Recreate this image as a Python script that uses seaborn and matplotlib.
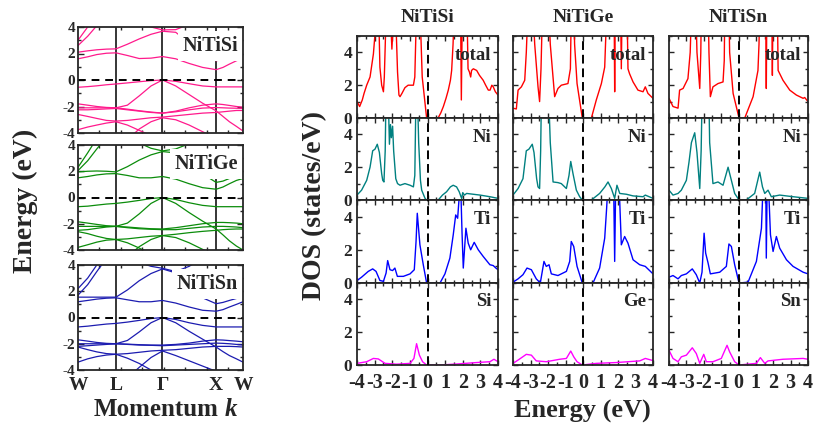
import matplotlib
matplotlib.use("Agg")
import matplotlib.pyplot as plt
import seaborn as sns
from matplotlib.ticker import MultipleLocator

# ---------------- data ----------------
# k-path W-L-G-X-W (units 2pi/a), symmetry point labels
K = [0.0, 0.18, 0.35, 0.53, 0.707, 0.92, 1.14, 1.36, 1.573, 1.82, 2.07, 2.32, 2.573, 2.70, 2.82, 2.95, 3.073]
K_LABELS = ["W", "L", "\u0393", "X", "W"]
K_SYM_IDX = [0, 4, 8, 12, 16]

COMPOUNDS = ["NiTiSi", "NiTiGe", "NiTiSn"]
SPECIES = ["Si", "Ge", "Sn"]

BANDS_SI = [
    [-0.55, -0.5, -0.44, -0.36, -0.3, -0.22, -0.13, -0.05, 0.0, -0.1, -0.28, -0.45, -0.52, -0.52, -0.52, -0.52, -0.52],
    [-1.8, -1.9, -2.0, -2.07, -2.1, -1.9, -1.2, -0.45, 0.0, -0.45, -1.1, -1.75, -2.33, -2.75, -3.15, -3.5, -3.85],
    [-2.1, -2.1, -2.1, -2.1, -2.1, -2.2, -2.32, -2.42, -2.5, -2.4, -2.25, -2.12, -2.08, -2.1, -2.12, -2.13, -2.15],
    [-2.25, -2.25, -2.22, -2.18, -2.15, -2.25, -2.35, -2.45, -2.5, -2.35, -2.1, -1.9, -1.8, -1.85, -1.92, -2.0, -2.05],
    [-2.6, -2.75, -2.9, -3.05, -3.1, -3.05, -2.95, -2.85, -2.8, -2.7, -2.6, -2.5, -2.45, -2.4, -2.35, -2.3, -2.3],
    [-3.75, -3.55, -3.4, -3.25, -3.15, -3.4, -3.8, -4.2, -4.5, -5, -5, -5, -5, -5, -5, -5, -5],
    [-5, -5, -5, -5, -5, -4.5, -3.7, -3.15, -2.85, -3.0, -3.4, -3.9, -4.4, -4.8, -5, -5, -5],
    [1.6, 1.75, 1.92, 2.02, 2.05, 1.85, 1.62, 1.65, 1.77, 1.6, 1.25, 0.95, 0.78, 0.95, 1.2, 1.45, 1.65],
    [2.1, 2.2, 2.28, 2.33, 2.35, 2.7, 3.1, 3.45, 3.68, 3.6, 2.8, 1.9, 1.45, 1.55, 1.7, 1.9, 2.1],
    [2.6, 3.3, 4.1, 5.0, 5.8, 6, 6, 6, 6, 6, 6, 6, 6, 6, 6, 6, 6],
    [3.0, 4.0, 5.0, 6, 6, 6, 6, 6, 6, 6, 6, 6, 6, 6, 6, 6, 6],
    [6, 6, 6, 6, 5.2, 4.8, 4.4, 4.0, 3.78, 3.8, 4.2, 4.8, 5.5, 6, 6, 6, 6],
]
BANDS_GE = [
    [-0.7, -0.66, -0.58, -0.5, -0.45, -0.35, -0.22, -0.08, 0.0, -0.15, -0.4, -0.6, -0.7, -0.7, -0.7, -0.7, -0.7],
    [-1.85, -1.95, -2.05, -2.15, -2.2, -1.95, -1.25, -0.45, 0.0, -0.45, -1.15, -1.8, -2.4, -2.85, -3.3, -3.7, -4.0],
    [-2.2, -2.2, -2.2, -2.2, -2.2, -2.25, -2.32, -2.38, -2.4, -2.3, -2.15, -2.0, -1.9, -1.9, -1.92, -1.95, -2.0],
    [-2.5, -2.45, -2.35, -2.25, -2.2, -2.3, -2.38, -2.42, -2.45, -2.45, -2.35, -2.25, -2.2, -2.2, -2.22, -2.25, -2.3],
    [-2.6, -2.75, -2.95, -3.12, -3.2, -3.15, -3.05, -2.95, -2.9, -2.8, -2.68, -2.58, -2.5, -2.45, -2.42, -2.4, -2.4],
    [-3.8, -3.6, -3.4, -3.25, -3.2, -3.45, -3.85, -4.3, -4.7, -5, -5, -5, -5, -5, -5, -5, -5],
    [-5, -5, -5, -5, -5, -4.5, -3.75, -3.2, -2.9, -3.05, -3.45, -3.95, -4.45, -4.8, -5, -5, -5],
    [1.5, 1.6, 1.72, 1.8, 1.82, 1.68, 1.5, 1.5, 1.6, 1.4, 1.05, 0.75, 0.63, 0.8, 1.05, 1.3, 1.45],
    [1.95, 2.0, 2.02, 2.0, 1.95, 2.35, 2.85, 3.25, 3.5, 3.4, 2.7, 1.8, 1.15, 1.25, 1.45, 1.7, 2.0],
    [2.05, 2.8, 3.7, 4.6, 5.5, 6, 6, 6, 6, 6, 6, 6, 6, 6, 6, 6, 6],
    [2.3, 3.4, 4.5, 5.5, 6, 6, 6, 6, 6, 6, 6, 6, 6, 6, 6, 6, 6],
    [6, 6, 6, 6, 5.1, 4.6, 4.15, 3.75, 3.55, 3.7, 4.1, 4.7, 5.4, 6, 6, 6, 6],
]
BANDS_SN = [
    [-0.72, -0.66, -0.58, -0.5, -0.45, -0.35, -0.22, -0.08, 0.0, -0.15, -0.4, -0.6, -0.72, -0.72, -0.72, -0.72, -0.72],
    [-1.7, -1.8, -1.9, -1.97, -2.0, -1.75, -1.1, -0.4, 0.0, -0.4, -1.05, -1.65, -2.25, -2.6, -2.9, -3.15, -3.4],
    [-2.0, -2.0, -2.0, -2.0, -2.0, -2.03, -2.07, -2.1, -2.1, -2.05, -1.95, -1.8, -1.7, -1.72, -1.76, -1.8, -1.85],
    [-2.2, -2.15, -2.1, -2.05, -2.0, -2.05, -2.1, -2.12, -2.15, -2.1, -2.05, -2.0, -1.95, -1.97, -2.0, -2.05, -2.1],
    [-2.25, -2.45, -2.62, -2.75, -2.8, -2.75, -2.65, -2.55, -2.5, -2.45, -2.35, -2.25, -2.2, -2.2, -2.2, -2.22, -2.25],
    [-3.4, -3.15, -2.98, -2.86, -2.8, -3.1, -3.5, -4.0, -4.4, -5, -5, -5, -5, -5, -5, -5, -5],
    [-5, -5, -5, -5, -5, -4.6, -3.8, -3.05, -2.55, -2.9, -3.3, -3.7, -4.1, -4.3, -4.5, -4.7, -4.9],
    [1.2, 1.3, 1.4, 1.47, 1.5, 1.35, 1.2, 1.2, 1.3, 1.1, 0.8, 0.55, 0.48, 0.6, 0.8, 1.0, 1.2],
    [1.55, 1.55, 1.55, 1.55, 1.55, 2.1, 2.8, 3.35, 3.7, 3.4, 2.5, 1.5, 1.05, 1.15, 1.3, 1.45, 1.55],
    [1.7, 2.5, 3.5, 4.5, 5.5, 6, 6, 6, 6, 6, 6, 6, 6, 6, 6, 6, 6],
    [2.2, 3.0, 4.0, 5.0, 6, 6, 6, 6, 6, 6, 6, 6, 6, 6, 6, 6, 6],
    [6, 6, 6, 6, 5.0, 4.6, 4.2, 3.9, 3.75, 3.5, 3.9, 4.5, 5.2, 6, 6, 6, 6],
]

# DOS curves: (energy eV, states/eV)
TOT_SI = [(-4.0,1.0),(-3.85,0.7),(-3.7,1.1),(-3.6,1.5),(-3.45,2.0),(-3.26,2.5),(-3.07,3.9),(-2.95,5.5),(-2.85,7),
          (-2.75,5.5),(-2.70,3.1),(-2.6,2.0),(-2.5,1.6),(-2.45,2.5),(-2.37,5.5),(-2.2,7),(-2.07,5.5),(-2.02,4.2),
          (-1.96,5.5),(-1.85,7),(-1.78,5.5),(-1.70,2.8),(-1.62,1.4),(-1.56,1.3),(-1.45,1.5),(-1.28,1.85),(-1.1,2.0),
          (-0.8,2.0),(-0.72,2.5),(-0.65,5.5),(-0.5,7),(-0.39,5.5),(-0.3,2.5),(-0.2,1.5),(-0.05,0.0),(0.6,0.0),
          (0.75,0.3),(0.9,0.7),(1.05,1.2),(1.18,1.7),(1.3,2.3),(1.37,2.9),(1.45,4.5),(1.5,6),(1.88,6),(1.92,1.1),
          (1.97,6),(2.25,6),(2.30,3.0),(2.38,2.8),(2.45,2.5),(2.5,2.9),(2.6,3.0),(2.79,2.9),(2.95,2.6),(3.16,2.3),
          (3.3,2.0),(3.45,1.7),(3.55,1.7),(3.65,2.0),(3.73,1.9),(3.85,1.6),(4.0,1.4)]
NI_SI = [(-4.0,0.3),(-3.74,0.6),(-3.45,1.2),(-3.26,2.0),(-3.11,3.0),(-2.98,3.1),(-2.85,3.4),(-2.73,2.9),(-2.6,1.6),
         (-2.54,1.2),(-2.47,1.1),(-2.40,3.0),(-2.36,6),(-2.22,6),(-2.16,3.4),(-2.10,4.6),(-2.05,3.8),(-1.98,4.5),
         (-1.92,3.0),(-1.80,1.3),(-1.70,1.0),(-1.56,0.9),(-1.28,1.0),(-0.99,0.9),(-0.80,0.8),(-0.72,1.5),(-0.66,6),
         (-0.56,6),(-0.50,3.5),(-0.40,1.2),(-0.33,0.6),(-0.14,0.1),(-0.05,0.0),(0.61,0.0),(0.85,0.3),(1.08,0.5),
         (1.30,0.8),(1.46,0.9),(1.55,0.85),(1.65,0.8),(1.80,0.5),(1.90,0.2),(1.94,0.1),(2.0,0.45),(2.1,0.3),
         (2.22,0.4),(2.6,0.35),(2.98,0.3),(3.54,0.2),(4.0,0.1)]
TI_SI = [(-4.0,0.15),(-3.74,0.35),(-3.36,0.7),(-3.11,0.85),(-2.92,0.7),(-2.70,0.15),(-2.5,0.1),(-2.35,0.6),(-2.26,1.35),
         (-2.13,0.8),(-1.98,0.75),(-1.85,0.9),(-1.71,0.4),(-1.37,0.4),(-0.99,0.55),(-0.75,0.8),(-0.65,2.5),(-0.58,4.2),
         (-0.43,2.3),(-0.24,1.1),(-0.05,0.0),(0.71,0.0),(0.99,0.55),(1.27,1.5),(1.46,2.9),(1.60,4.1),(1.71,3.9),
         (1.80,5.2),(1.88,6),(1.96,3.0),(2.03,0.9),(2.18,3.3),(2.31,2.4),(2.45,2.0),(2.65,2.45),(2.88,2.0),(3.16,1.6),
         (3.54,1.1),(3.73,1.05),(3.88,0.9),(4.0,0.8)]
X_SI = [(-4.0,0.1),(-3.45,0.2),(-3.07,0.4),(-2.79,0.37),(-2.41,0.1),(-1.75,0.05),(-0.99,0.1),(-0.77,0.4),(-0.62,1.3),
        (-0.46,0.6),(-0.28,0.2),(-0.05,0.0),(0.71,0.0),(1.65,0.06),(2.79,0.15),(3.54,0.2),(3.77,0.35),(4.0,0.2)]

TOT_GE = [(-4.0,0.6),(-3.81,0.55),(-3.71,1.7),(-3.52,1.9),(-3.33,2.3),(-3.24,4.0),(-3.15,6.5),(-2.85,6.5),(-2.76,4.5),
          (-2.57,1.9),(-2.48,1.0),(-2.40,3.0),(-2.32,6.5),(-1.95,6.5),(-1.87,4.5),(-1.62,1.3),(-1.43,1.8),(-1.24,2.0),
          (-0.86,2.1),(-0.72,3.0),(-0.67,6.5),(-0.52,6.5),(-0.48,4.5),(-0.34,2.1),(-0.04,0.0),(0.48,0.0),(0.76,1.1),
          (1.05,2.1),(1.24,3.1),(1.32,5.5),(1.4,6.5),(1.78,6.5),(1.81,1.6),(1.84,6.5),(2.15,6.5),(2.19,3.0),(2.23,6.5),
          (2.52,6.5),(2.57,3.0),(2.66,2.7),(2.86,2.2),(3.14,1.7),(3.43,1.6),(3.56,1.9),(3.71,1.5),(4.0,1.2)]
NI_GE = [(-4.0,0.3),(-3.71,0.7),(-3.43,1.3),(-3.24,3.0),(-3.09,3.1),(-2.9,3.4),(-2.8,2.9),(-2.65,1.3),(-2.57,0.8),
         (-2.48,0.7),(-2.42,3.0),(-2.38,6),(-1.95,6),(-1.87,3.5),(-1.71,1.1),(-1.43,1.06),(-1.24,1.0),(-0.95,0.7),
         (-0.80,1.5),(-0.70,2.35),(-0.57,1.6),(-0.38,0.6),(-0.19,0.2),(-0.04,0.0),(0.48,0.0),(0.95,0.4),(1.25,0.8),
         (1.43,1.1),(1.62,0.7),(1.81,0.1),(1.94,0.9),(2.1,0.4),(2.48,0.35),(2.86,0.25),(3.43,0.2),(3.56,0.3),(4.0,0.1)]
TI_GE = [(-4.0,0.05),(-3.71,0.25),(-3.43,0.5),(-3.2,0.9),(-2.95,0.8),(-2.67,0.25),(-2.44,0.0),(-2.23,1.3),(-2.1,1.0),
         (-1.94,1.1),(-1.81,0.55),(-1.43,0.45),(-0.95,0.7),(-0.76,1.3),(-0.67,2.5),(-0.53,2.2),(-0.34,1.0),(-0.04,0.0),
         (0.57,0.0),(0.95,0.9),(1.24,2.7),(1.35,4.5),(1.43,6),(1.75,6),(1.81,1.3),(1.87,6),(2.06,6),(2.19,2.3),
         (2.38,2.8),(2.57,2.4),(2.86,1.4),(3.24,1.1),(3.56,1.0),(4.0,0.55)]
X_GE = [(-4.0,0.1),(-3.71,0.3),(-3.24,0.65),(-2.95,0.6),(-2.67,0.25),(-2.1,0.2),(-1.33,0.35),(-0.95,0.4),(-0.7,0.85),
        (-0.53,0.5),(-0.34,0.2),(-0.04,0.0),(0.76,0.1),(1.9,0.15),(3.24,0.25),(3.56,0.4),(4.0,0.27)]

TOT_SN = [(-4.0,1.2),(-3.77,0.7),(-3.48,0.6),(-3.39,1.7),(-3.19,1.8),(-2.91,2.4),(-2.78,4.0),(-2.71,6.5),(-2.45,6.5),
          (-2.39,4.0),(-2.23,1.8),(-2.17,4.0),(-2.14,6.5),(-1.74,6.5),(-1.70,4.0),(-1.62,1.3),(-1.47,1.9),(-1.18,2.1),
          (-0.89,2.2),(-0.82,3.5),(-0.79,6.5),(-0.55,6.5),(-0.51,4.0),(-0.31,1.5),(0.03,0.0),(0.36,0.0),(0.84,1.3),
          (1.12,2.9),(1.18,4.5),(1.22,6.5),(1.57,6.5),(1.60,1.8),(1.63,6.5),(1.92,6.5),(1.95,2.6),(1.98,6.5),(2.24,6.5),
          (2.28,2.9),(2.56,2.3),(2.95,1.7),(3.33,1.4),(3.72,1.2),(3.81,1.25),(4.0,1.0)]
NI_SN = [(-4.0,0.6),(-3.77,0.3),(-3.48,0.4),(-3.29,0.6),(-3.0,1.2),(-2.85,2.3),(-2.71,3.5),(-2.52,4.1),(-2.39,2.9),
         (-2.23,0.7),(-2.15,3.0),(-2.10,6),(-1.70,6),(-1.66,3.5),(-1.47,1.0),(-1.18,1.1),(-0.89,0.9),(-0.60,2.0),
         (-0.41,1.2),(-0.22,0.4),(0.03,0.0),(0.45,0.0),(0.93,0.4),(1.22,1.7),(1.38,0.8),(1.51,0.4),(1.70,0.6),
         (1.89,0.2),(2.37,0.3),(3.14,0.2),(4.0,0.1)]
TI_SN = [(-4.0,0.35),(-3.77,0.45),(-3.48,0.25),(-3.29,0.45),(-3.0,0.55),(-2.66,0.85),(-2.43,0.5),(-2.23,0.0),(-2.1,0.65),
         (-1.98,3.0),(-1.89,1.8),(-1.75,1.2),(-1.62,0.55),(-1.08,0.65),(-0.70,1.0),(-0.55,2.35),(-0.41,2.2),(-0.22,1.1),
         (0.03,0.0),(0.55,0.05),(1.03,1.3),(1.32,3.3),(1.40,5.5),(1.47,6),(1.57,6),(1.60,1.5),(1.65,6),(1.72,6),
         (1.84,2.9),(1.99,1.9),(2.18,2.8),(2.37,2.1),(2.76,1.4),(3.14,1.0),(3.72,0.65),(4.0,0.55)]
X_SN = [(-4.0,0.9),(-3.77,0.4),(-3.48,0.2),(-3.29,0.5),(-3.0,0.6),(-2.66,1.05),(-2.43,0.7),(-2.23,0.1),(-2.0,0.65),
        (-1.85,0.2),(-1.47,0.2),(-0.99,0.4),(-0.66,1.2),(-0.51,0.8),(-0.22,0.2),(0.03,0.0),(1.03,0.1),(1.26,0.45),
        (1.51,0.1),(1.70,0.25),(2.56,0.35),(3.72,0.4),(4.0,0.35)]

# ---------------- style ----------------
sns.set_style("ticks", {"xtick.direction": "in", "ytick.direction": "in"})
plt.rcParams["font.family"] = ["Liberation Serif", "DejaVu Serif"]
plt.rcParams["font.weight"] = "bold"
plt.rcParams["axes.unicode_minus"] = False
plt.rcParams["axes.linewidth"] = 1.3

W, H = 814, 425
fig = plt.figure(figsize=(W / 100, H / 100), dpi=100)


def rect(x0, y0, x1, y1):
    return [x0 / W, 1 - y1 / H, (x1 - x0) / W, (y1 - y0) / H]


BAND_COLORS = ["#ff1a8c", "#0b8c0b", "#1c1cb0"]
band_sets = [BANDS_SI, BANDS_GE, BANDS_SN]
band_rows = [(27, 133), (145, 250), (265, 370)]

for i, (bands, (t, b)) in enumerate(zip(band_sets, band_rows)):
    ax = fig.add_axes(rect(78, t, 243, b))
    for band in bands:
        sns.lineplot(x=K, y=band, ax=ax, color=BAND_COLORS[i], lw=0.9,
                     estimator=None, sort=False, legend=False)
    for j in K_SYM_IDX[1:4]:
        ax.axvline(K[j], color="black", lw=1.1, zorder=1.8)
    ax.axhline(0, color="black", lw=1.4, ls=(0, (4, 3)), zorder=2.2)
    ax.set_xlim(K[0], K[-1])
    ax.set_ylim(-4, 4)
    ax.yaxis.set_major_locator(MultipleLocator(2))
    ax.yaxis.set_minor_locator(MultipleLocator(1))
    ax.xaxis.set_minor_locator(MultipleLocator(0.4))
    ax.set_xticks([K[j] for j in K_SYM_IDX])
    ax.tick_params(axis="x", which="major", length=0, pad=5)
    ax.tick_params(axis="x", which="minor", length=2.5, width=1, top=True, bottom=True)
    ax.tick_params(axis="y", which="major", length=4, width=1, left=True, right=True, pad=2)
    ax.tick_params(axis="y", which="minor", length=2.5, width=1, left=True, right=True)
    ax.tick_params(axis="y", labelsize=11)
    if i == 2:
        ax.set_xticklabels(K_LABELS, fontsize=14, fontweight="bold")
    else:
        ax.set_xticklabels([])
    for lab in ax.get_yticklabels():
        lab.set_fontweight("bold")
    ax.set_xlabel("")
    ax.set_ylabel("")
    ax.text(0.97, 1 - 19 / (b - t), COMPOUNDS[i], transform=ax.transAxes, ha="right",
            va="center", fontsize=14.5, fontweight="bold", zorder=2.4,
            bbox=dict(facecolor="white", edgecolor="none", pad=3.5))

# DOS panels
dos_cols = [(357, 498), (513, 653), (669, 808)]
dos_rows = [(36, 118), (118, 200), (200, 283), (283, 365)]
dos_data = [[TOT_SI, NI_SI, TI_SI, X_SI], [TOT_GE, NI_GE, TI_GE, X_GE], [TOT_SN, NI_SN, TI_SN, X_SN]]
dos_colors = ["#ff0000", "#008080", "#0000ff", "#ff00ff"]

for c, (x0, x1) in enumerate(dos_cols):
    for r, (y0, y1) in enumerate(dos_rows):
        ax = fig.add_axes(rect(x0, y0, x1, y1))
        curve = dos_data[c][r]
        ev = [p[0] for p in curve]
        dv = [p[1] for p in curve]
        sns.lineplot(x=ev, y=dv, ax=ax, color=dos_colors[r], lw=1.0,
                     estimator=None, sort=False, legend=False)
        ax.axvline(0, color="black", lw=1.4, ls=(0, (4.5, 2.5)), zorder=3)
        ax.set_xlim(-4, 4)
        ax.set_ylim(0, 5)
        ax.xaxis.set_major_locator(MultipleLocator(1))
        ax.xaxis.set_minor_locator(MultipleLocator(0.5))
        ax.yaxis.set_major_locator(MultipleLocator(2))
        ax.yaxis.set_minor_locator(MultipleLocator(1))
        ax.tick_params(which="major", length=3.5, width=1, top=True, right=True, bottom=True, left=True)
        ax.tick_params(which="minor", length=2, width=1, top=True, right=True, bottom=True, left=True)
        ax.tick_params(axis="y", labelsize=12.5, pad=3.5, labelleft=(c == 0))
        ax.tick_params(axis="x", labelsize=14.5, pad=6, labelbottom=(r == 3))
        for lab in ax.get_xticklabels() + ax.get_yticklabels():
            lab.set_fontweight("bold")
        ax.set_xlabel("")
        ax.set_ylabel("")
        name = "total" if r == 0 else ["Ni", "Ti", SPECIES[c]][r - 1]
        ax.text(0.95, 1 - 19 / 82, name, transform=ax.transAxes, ha="right", va="center",
                fontsize=13.5, fontweight="bold")
        if r == 0:
            ax.text(0.5, 1.0 + 18 / 82, COMPOUNDS[c], transform=ax.transAxes, ha="center",
                    va="center", fontsize=14, fontweight="bold")

# axis titles
fig.text(25 / W, 1 - 201 / H, "Energy (eV)", rotation=90, ha="center", va="center",
         fontsize=20, fontweight="bold")
fig.text(315 / W, 1 - 205 / H, "DOS (states/eV)", rotation=90, ha="center", va="center",
         fontsize=20, fontweight="bold")
fig.text(94 / W, 1 - 409 / H, "Momentum", ha="left", va="center", fontsize=18, fontweight="bold")
fig.text(225 / W, 1 - 409 / H, "k", ha="left", va="center", fontsize=18, fontweight="bold",
         fontstyle="italic")
fig.text(582 / W, 1 - 411 / H, "Energy (eV)", ha="center", va="center", fontsize=19,
         fontweight="bold")

fig.savefig("out.png", dpi=100)
